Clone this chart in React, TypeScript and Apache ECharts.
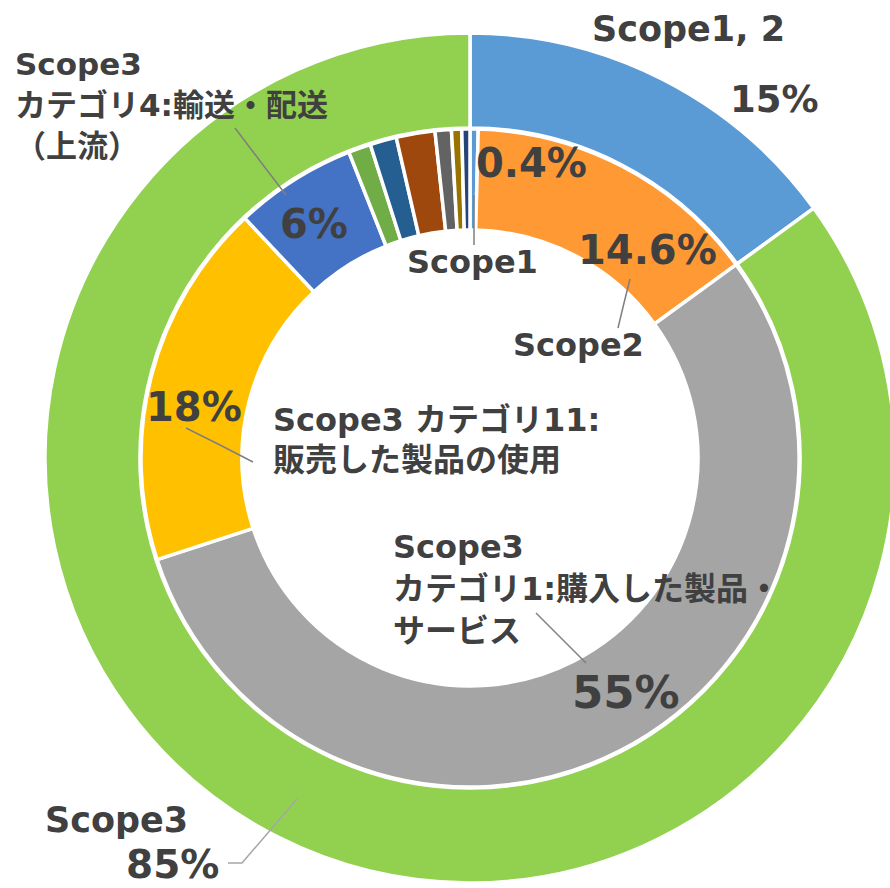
import React, { useEffect, useRef } from "react";
import * as echarts from "echarts";

// ---- data ----
const outerNames = ["Scope1, 2", "Scope3"];
const outerValues = [15, 85];
const outerColors = ["#5B9BD5", "#92D050"];

const innerNames = [
  "Scope1",
  "Scope2",
  "Scope3\nカテゴリ1:購入した製品・\nサービス",
  "Scope3 カテゴリ11:\n販売した製品の使用",
  "Scope3\nカテゴリ4:輸送・配送\n（上流）",
  "Scope3 その他1",
  "Scope3 その他2",
  "Scope3 その他3",
  "Scope3 その他4",
  "Scope3 その他5",
  "Scope3 その他6",
];
const innerValues = [0.4, 14.6, 55, 18, 6, 1.1, 1.3, 1.9, 0.8, 0.5, 0.4];
const innerColors = [
  "#5B9BD5",
  "#FF9933",
  "#A5A5A5",
  "#FFC000",
  "#4472C4",
  "#70AD47",
  "#255E91",
  "#9E480E",
  "#636363",
  "#997300",
  "#264478",
];
const labeledInner = 5; // first five inner slices carry labels

// ---- layout (label placement, pixels) ----
type L = { x: number; y: number; fs: number; lh?: number; line?: number[][]; lineColor?: string };
const outerValueLayout: Record<number, L> = {
  0: { x: 730, y: 81, fs: 37 },
  1: { x: 126, y: 845, fs: 39, lh: 38 },
};
const outerNameLayout: Record<number, L> = {
  0: { x: 592, y: 11, fs: 35 },
  1: {
    x: 45,
    y: 802,
    fs: 35,
    line: [[297, 799], [242, 863], [228, 863]],
    lineColor: "#A6A6A6",
  },
};
const innerValueLayout: Record<number, L> = {
  0: { x: 476, y: 143, fs: 40 },
  1: { x: 578, y: 230, fs: 40 },
  2: { x: 572, y: 670, fs: 45 },
  3: { x: 146, y: 387, fs: 40 },
  4: { x: 280, y: 204, fs: 40 },
};
const innerNameLayout: Record<number, L> = {
  0: { x: 407, y: 246, fs: 32, line: [[474, 195], [474, 220], [474, 245]] },
  1: { x: 513, y: 329, fs: 32, line: [[630, 279], [624, 303], [618, 328]] },
  2: { x: 393, y: 526, fs: 32, lh: 42, line: [[536, 613], [561, 638], [586, 663]] },
  3: { x: 273, y: 400, fs: 32, lh: 40, line: [[186, 428], [220, 445], [253, 462]] },
  4: { x: 15, y: 43, fs: 31, lh: 41, line: [[235, 128], [260, 161], [286, 195]] },
};

const FONT = "'DejaVu Sans', 'Noto Sans CJK JP', sans-serif";
const TEXT = "#404040";
const CENTER = [470, 458];

function buildData(
  names: string[],
  values: number[],
  colors: string[] | null,
  layout: Record<number, L>,
  showFn: (i: number) => boolean
) {
  return names.map((n, i) => {
    const lay = layout[i];
    const show = showFn(i) && !!lay;
    return {
      name: n,
      value: values[i],
      itemStyle: colors ? { color: colors[i] } : { color: "rgba(0,0,0,0)", borderWidth: 0 },
      label: show
        ? { show: true, fontSize: lay.fs, lineHeight: lay.lh ?? lay.fs }
        : { show: false },
      labelLine: {
        show: !!(show && lay.line),
        lineStyle: { color: lay?.lineColor ?? "#7F7F7F", width: 1.5 },
      },
    };
  });
}

function layoutFn(layout: Record<number, L>) {
  return (params: any) => {
    const lay = layout[params.dataIndex];
    if (!lay) return {};
    const r: any = { x: lay.x, y: lay.y, align: "left", verticalAlign: "top" };
    if (lay.line) r.labelLinePoints = lay.line;
    return r;
  };
}

const baseLabel = {
  position: "outside",
  fontFamily: FONT,
  fontWeight: "bold",
  color: TEXT,
};

export default function App() {
  const ref = useRef<HTMLDivElement>(null);
  useEffect(() => {
    if (!ref.current) return;
    const chart = echarts.init(ref.current, undefined, { renderer: "svg" });
    const common = {
      type: "pie",
      center: CENTER,
      startAngle: 90,
      clockwise: true,
      avoidLabelOverlap: false,
      emphasis: { disabled: true },
      animation: false,
    };
    chart.setOption({
      animation: false,
      backgroundColor: "#ffffff",
      series: [
        {
          ...common,
          z: 2,
          radius: [330, 425],
          itemStyle: { borderColor: "#ffffff", borderWidth: 3.5 },
          label: { ...baseLabel, formatter: (p: any) => `${p.value}%` },
          labelLine: { show: false },
          labelLayout: layoutFn(outerValueLayout),
          data: buildData(outerNames, outerValues, outerColors, outerValueLayout, () => true),
        },
        {
          ...common,
          z: 6,
          radius: [330, 425],
          silent: true,
          itemStyle: { borderWidth: 0 },
          label: { ...baseLabel, formatter: (p: any) => p.name },
          labelLine: { show: false },
          labelLayout: layoutFn(outerNameLayout),
          data: buildData(outerNames, outerValues, null, outerNameLayout, () => true),
        },
        {
          ...common,
          z: 2,
          radius: [228, 329],
          itemStyle: { borderColor: "#ffffff", borderWidth: 3.5 },
          label: { ...baseLabel, formatter: (p: any) => `${p.value}%` },
          labelLine: { show: false },
          labelLayout: layoutFn(innerValueLayout),
          data: buildData(innerNames, innerValues, innerColors, innerValueLayout, (i) => i < labeledInner),
        },
        {
          ...common,
          z: 6,
          radius: [228, 329],
          silent: true,
          itemStyle: { borderWidth: 0 },
          label: { ...baseLabel, formatter: (p: any) => p.name },
          labelLine: { show: false },
          labelLayout: layoutFn(innerNameLayout),
          data: buildData(innerNames, innerValues, null, innerNameLayout, (i) => i < labeledInner),
        },
      ],
    });
    return () => chart.dispose();
  }, []);
  return (
    <div
      ref={ref}
      style={{ position: "absolute", left: 0, top: 0, width: 890, height: 888 }}
    />
  );
}
